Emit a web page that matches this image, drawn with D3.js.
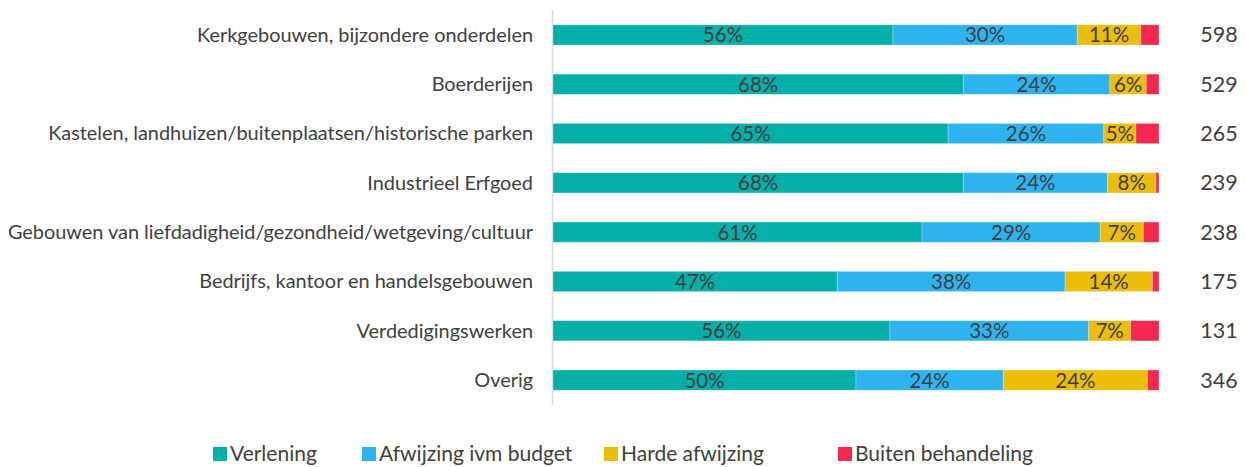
<!DOCTYPE html>
<html>
<head>
<meta charset="utf-8">
<script src="https://cdn.jsdelivr.net/npm/d3@7"></script>
<style>
  body { margin: 0; background: #fff; }
  text { font-family: Lato, "Open Sans", sans-serif; fill: #404040; }
</style>
</head>
<body>
<svg id="chart" width="1245" height="467"></svg>
<script>
const categories = [
    "Kerkgebouwen, bijzondere onderdelen",
    "Boerderijen",
    "Kastelen, landhuizen/buitenplaatsen/historische parken",
    "Industrieel Erfgoed",
    "Gebouwen van liefdadigheid/gezondheid/wetgeving/cultuur",
    "Bedrijfs, kantoor en handelsgebouwen",
    "Verdedigingswerken",
    "Overig"
];
const series = ["Verlening", "Afwijzing ivm budget", "Harde afwijzing", "Buiten behandeling"];
const colors = ["#05afa9", "#2eb3f1", "#ebbd06", "#f5284f"];

// percentages per series, in category order
const verlening = [56.1, 67.7, 65.2, 67.7, 60.9, 46.9, 55.6, 50.0];
const afwijzingBudget = [30.4, 24.2, 25.7, 23.8, 29.4, 37.6, 32.8, 24.3];
const hardeAfwijzing = [10.5, 6.0, 5.3, 8.0, 7.1, 14.4, 6.9, 23.8];
const buitenBehandeling = [3.0, 2.1, 3.8, 0.5, 2.6, 1.1, 4.7, 1.9];
const totals = [598, 529, 265, 239, 238, 175, 131, 346];

const svg = d3.select("#chart");
const margin = { left: 553, right: 86, top: 10, bottom: 62 };
const width = 1245, height = 467;

const rows = categories.map((c, i) => ({
    cat: c,
    vals: [verlening[i], afwijzingBudget[i], hardeAfwijzing[i], buitenBehandeling[i]],
    total: totals[i]
}));

const x = d3.scaleLinear().domain([0, 100]).range([margin.left, width - margin.right]);
const y = d3.scaleBand().domain(categories)
    .range([margin.top, height - margin.bottom]).paddingInner(0.59).paddingOuter(0.3);

// vertical axis line
svg.append("line")
    .attr("x1", margin.left - 0.5).attr("x2", margin.left - 0.5)
    .attr("y1", margin.top).attr("y2", height - margin.bottom)
    .attr("stroke", "#d9d9d9").attr("stroke-width", 1.5);

// category labels
svg.append("g").selectAll("text")
    .data(rows).enter().append("text")
    .attr("x", margin.left - 20)
    .attr("y", d => y(d.cat) + y.bandwidth() / 2)
    .attr("dy", "0.35em")
    .attr("text-anchor", "end")
    .style("font-size", "19.9px")
    .text(d => d.cat);

// stacked segments
const rowG = svg.append("g").selectAll("g")
    .data(rows).enter().append("g")
    .attr("transform", d => `translate(0,${y(d.cat)})`);

rowG.each(function (d) {
    let acc = 0;
    const segs = d.vals.map((v, k) => {
        const s = { start: acc, value: v, k: k };
        acc += v;
        return s;
    });
    const g = d3.select(this);
    g.selectAll("rect").data(segs).enter().append("rect")
        .attr("x", s => x(s.start))
        .attr("y", 0)
        .attr("width", s => x(s.start + s.value) - x(s.start))
        .attr("height", y.bandwidth())
        .attr("fill", s => colors[s.k])
        .attr("stroke", "#ffffff").attr("stroke-opacity", 0.4).attr("stroke-width", 0.7);
    g.selectAll("text").data(segs.filter(s => s.k < 3)).enter().append("text")
        .attr("x", s => x(s.start + s.value / 2))
        .attr("y", y.bandwidth() / 2)
        .attr("dy", "0.37em")
        .attr("text-anchor", "middle")
        .style("font-size", "20.5px")
        .text(s => Math.round(s.value) + "%");
});

// totals on the right
svg.append("g").selectAll("text")
    .data(rows).enter().append("text")
    .attr("x", 1219)
    .attr("y", d => y(d.cat) + y.bandwidth() / 2)
    .attr("dy", "0.35em")
    .attr("text-anchor", "middle")
    .style("font-size", "21.5px")
    .text(d => d.total);

// legend
const legendX = [213, 362, 604, 838];
const legend = svg.append("g").selectAll("g")
    .data(series).enter().append("g")
    .attr("transform", (d, i) => `translate(${legendX[i]},453)`);
legend.append("rect")
    .attr("x", 0).attr("y", -6).attr("width", 14).attr("height", 14)
    .attr("fill", (d, i) => colors[i]);
legend.append("text")
    .attr("x", 17).attr("y", 0).attr("dy", "0.36em")
    .style("font-size", "21px")
    .text(d => d);
</script>
</body>
</html>
